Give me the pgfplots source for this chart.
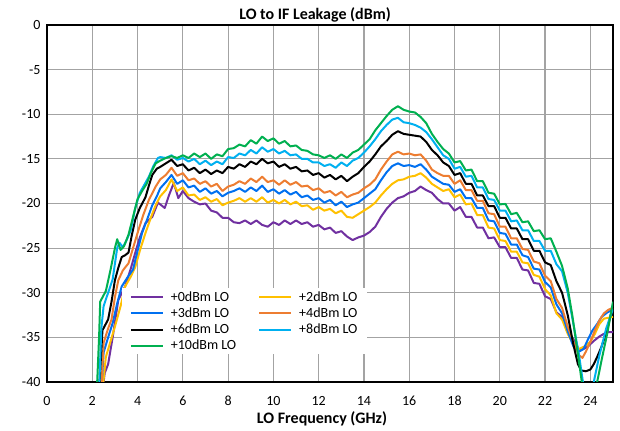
\documentclass[border=0pt]{standalone}
\usepackage{pgfplots}
\pgfplotsset{compat=1.18}
\usepackage{fontspec}
\setmainfont{Carlito}
\definecolor{cP}{HTML}{7030A0}
\definecolor{cY}{HTML}{FFC000}
\definecolor{cB}{HTML}{0070F0}
\definecolor{cO}{HTML}{ED7D31}
\definecolor{cC}{HTML}{00B0F0}
\definecolor{cG}{HTML}{00B050}
\begin{document}
\begin{tikzpicture}
\begin{axis}[name=ax,
  scale only axis, width=566pt, height=357pt,
  xmin=0, xmax=25, ymin=-40, ymax=0,
  xtick={0,2,...,24}, ytick={-40,-35,...,0},
  grid=major, major grid style={color=black!36, line width=1.2pt},
  axis line style={black, line width=1.8pt},
  major tick length=0pt,
  /pgf/number format/assume math mode=true,
  ticklabel style={font=\fontsize{14}{16}\selectfont},
  xticklabel style={anchor=base, yshift=-24pt},
  yticklabel style={xshift=-3pt},
  title={\textbf{LO to IF Leakage (dBm)}},
  title style={font=\fontsize{16}{18}\selectfont, at={(axis description cs:0.5,1)}, anchor=base, yshift=-1pt, xshift=-15pt},
  xlabel={\textbf{LO Frequency (GHz)}},
  xlabel style={font=\fontsize{16}{18}\selectfont, at={(axis description cs:0.5,0)}, anchor=base, yshift=-42pt, xshift=-8pt},
  every axis plot/.append style={line width=2pt, line join=round},
  legend columns=2,
  legend cell align=left,
  legend style={at={(axis cs:3.3,-29.5)}, anchor=north west, draw=none, fill=white,
    font=\fontsize{14}{15}\selectfont, inner xsep=8pt, inner ysep=1pt, row sep=1pt,
    /tikz/every odd column/.append style={column sep=5pt},
    /tikz/every even column/.append style={column sep=20pt}},
  legend image code/.code={\draw[#1] (0pt,0pt) -- (32pt,0pt);},
]
% +0 dBm
\addplot[cP] coordinates {
(2.45,-41)(2.55,-39)(2.7,-38)(2.9,-35)(3.15,-30.8)(3.45,-29.3)(3.7,-27.3)(3.9,-25.5)(4.1,-23.8)(4.35,-22.2)(4.65,-21.5)(4.9,-19.9)
(5.0,-20.1)(5.2,-20.5)(5.4,-19.0)(5.6,-17.7)(5.8,-19.4)(6.0,-18.6)(6.25,-19.4)(6.5,-19.8)(6.75,-20.1)(7.0,-20.0)(7.25,-20.8)(7.5,-21.0)(7.75,-21.6)(8.0,-21.6)(8.25,-22.1)(8.5,-22.2)(8.75,-21.9)(9.0,-22.3)(9.25,-21.9)(9.5,-22.4)(9.75,-22.6)(10.0,-22.1)(10.25,-22.4)(10.5,-21.9)(10.75,-22.3)(11.0,-21.9)(11.25,-22.3)(11.5,-22.1)(11.75,-22.6)(12.0,-22.4)(12.25,-22.9)(12.5,-22.7)(12.75,-23.3)(13.0,-23.1)(13.25,-23.7)(13.5,-24.1)(13.75,-23.8)(14.0,-23.6)(14.25,-23.2)(14.5,-22.6)(14.75,-21.5)(15.0,-20.6)(15.25,-19.9)(15.5,-19.4)(15.75,-19.2)(16.0,-18.8)(16.25,-18.6)(16.5,-18.1)(16.75,-18.5)(17.0,-18.8)(17.25,-19.5)(17.5,-20.0)
(17.75,-20.0)(18.0,-20.8)(18.25,-20.4)(18.5,-21.5)(18.75,-21.5)(19.0,-22.7)(19.25,-22.7)(19.5,-23.9)(19.75,-23.8)(20.0,-24.9)(20.25,-24.9)(20.5,-26.1)(20.75,-26.1)(21.0,-27.4)(21.25,-27.5)(21.5,-28.9)(21.75,-29.0)(22.0,-30.4)(22.25,-30.7)(22.5,-32.2)(22.75,-32.7)(23.0,-34.4)(23.25,-35.2)(23.5,-36.4)(23.7,-36.3)(23.9,-36.0)(24.15,-35.4)(24.4,-34.9)(24.6,-34.6)(24.8,-34.4)(25,-34.4)};
\addlegendentry{+0dBm LO}
% +2 dBm
\addplot[cY] coordinates {
(2.45,-41)(2.6,-37.2)(2.8,-35.5)(3.0,-33.8)(3.25,-31.5)(3.45,-29.3)(3.7,-28.2)(3.9,-27.1)(4.1,-25.3)(4.35,-23.3)(4.6,-21.5)(4.8,-20.2)
(5.0,-19.2)(5.25,-18.5)(5.5,-17.3)(5.75,-18.6)(6.0,-18.2)(6.25,-19.1)(6.5,-19.0)(6.75,-19.6)(7.0,-19.3)(7.25,-19.8)(7.5,-19.5)(7.75,-20.2)(8.0,-19.9)(8.25,-19.7)(8.5,-19.4)(8.75,-19.8)(9.0,-19.4)(9.25,-19.8)(9.5,-19.3)(9.75,-19.9)(10.0,-19.6)(10.25,-20.0)(10.5,-19.6)(10.75,-20.1)(11.0,-19.8)(11.25,-20.3)(11.5,-20.2)(11.75,-20.7)(12.0,-20.4)(12.25,-20.8)(12.5,-20.6)(12.75,-21.1)(13.0,-20.8)(13.25,-21.5)(13.5,-21.6)(13.75,-21.2)(14.0,-20.8)(14.25,-20.4)(14.5,-19.9)(14.75,-19.1)(15.0,-18.4)(15.25,-17.8)(15.5,-17.4)(15.75,-17.3)(16.0,-17.0)(16.25,-16.9)(16.5,-16.6)(16.75,-17.1)(17.0,-17.8)(17.25,-18.2)(17.5,-18.6)
(17.75,-18.4)(18.0,-19.3)(18.25,-19.0)(18.5,-20.1)(18.75,-20.0)(19.0,-21.3)(19.25,-21.3)(19.5,-22.7)(19.75,-22.8)(20.0,-24.1)(20.25,-24.2)(20.5,-25.4)(20.75,-25.4)(21.0,-26.6)(21.25,-26.7)(21.5,-28.0)(21.75,-28.2)(22.0,-29.6)(22.25,-30.3)(22.5,-32.3)(22.75,-33.0)(23.0,-34.6)(23.25,-35.8)(23.5,-36.3)(23.75,-36.0)(24.0,-35.5)(24.2,-34.6)(24.4,-33.5)(24.6,-32.9)(24.8,-32.8)(25,-32.7)};
\addlegendentry{+2dBm LO}
% +3 dBm
\addplot[cB] coordinates {
(2.4,-41)(2.5,-36.7)(2.7,-35)(2.9,-33.4)(3.1,-31.2)(3.3,-29.3)(3.55,-28.3)(3.8,-27.4)(4.0,-25.3)(4.2,-23.3)(4.45,-21.6)(4.65,-20.2)(4.85,-19.2)
(5.0,-18.3)(5.25,-17.6)(5.5,-16.8)(5.75,-17.8)(6.0,-17.4)(6.25,-18.2)(6.5,-18.0)(6.75,-18.7)(7.0,-18.3)(7.25,-18.9)(7.5,-18.6)(7.75,-19.2)(8.0,-18.8)(8.25,-18.6)(8.5,-18.3)(8.75,-18.7)(9.0,-18.2)(9.25,-18.6)(9.5,-18.0)(9.75,-18.7)(10.0,-18.4)(10.25,-18.9)(10.5,-18.5)(10.75,-19.0)(11.0,-18.7)(11.25,-19.3)(11.5,-19.1)(11.75,-19.6)(12.0,-19.4)(12.25,-19.9)(12.5,-19.6)(12.75,-20.2)(13.0,-19.8)(13.25,-20.4)(13.5,-20.1)(13.75,-19.9)(14.0,-19.4)(14.25,-18.9)(14.5,-18.4)(14.75,-17.4)(15.0,-16.5)(15.25,-15.8)(15.5,-15.5)(15.75,-15.8)(16.0,-15.7)(16.25,-15.9)(16.5,-15.6)(16.75,-16.2)(17.0,-17.0)(17.25,-17.4)(17.5,-17.8)
(17.75,-17.9)(18.0,-18.7)(18.25,-18.4)(18.5,-19.4)(18.75,-19.4)(19.0,-20.5)(19.25,-20.5)(19.5,-21.9)(19.75,-22.0)(20.0,-23.3)(20.25,-23.4)(20.5,-24.6)(20.75,-24.6)(21.0,-25.8)(21.25,-26.0)(21.5,-27.3)(21.75,-27.4)(22.0,-28.8)(22.25,-29.4)(22.5,-31.3)(22.75,-32.3)(23.0,-34.3)(23.25,-36.0)(23.5,-36.6)(23.7,-36.3)(23.9,-35.2)(24.1,-34.2)(24.3,-33.5)(24.5,-32.7)(24.75,-32.2)(25,-31.9)};
\addlegendentry{+3dBm LO}
% +4 dBm
\addplot[cO] coordinates {
(2.4,-41)(2.5,-35.6)(2.7,-34)(2.85,-33)(3.0,-30.5)(3.15,-28.6)(3.35,-27.5)(3.6,-26.7)(3.8,-25)(4.0,-23.3)(4.25,-21.3)(4.5,-19.6)(4.8,-18.1)
(5.0,-17.3)(5.25,-16.8)(5.5,-16.0)(5.75,-16.9)(6.0,-16.6)(6.25,-17.4)(6.5,-17.2)(6.75,-17.8)(7.0,-17.5)(7.25,-18.1)(7.5,-17.8)(7.75,-18.6)(8.0,-18.1)(8.25,-17.9)(8.5,-17.5)(8.75,-17.8)(9.0,-17.2)(9.25,-17.6)(9.5,-17.0)(9.75,-17.6)(10.0,-17.4)(10.25,-17.9)(10.5,-17.4)(10.75,-17.9)(11.0,-17.6)(11.25,-18.1)(11.5,-18.0)(11.75,-18.5)(12.0,-18.3)(12.25,-18.8)(12.5,-18.6)(12.75,-19.1)(13.0,-18.7)(13.25,-19.3)(13.5,-19.0)(13.75,-18.8)(14.0,-18.3)(14.25,-17.9)(14.5,-17.3)(14.75,-16.2)(15.0,-15.3)(15.25,-14.5)(15.5,-14.2)(15.75,-14.5)(16.0,-14.4)(16.25,-14.6)(16.5,-14.5)(16.75,-15.2)(17.0,-16.2)(17.25,-16.6)(17.5,-16.9)
(17.75,-16.9)(18.0,-17.8)(18.25,-17.4)(18.5,-18.5)(18.75,-18.5)(19.0,-19.7)(19.25,-19.7)(19.5,-21.1)(19.75,-21.2)(20.0,-22.6)(20.25,-22.6)(20.5,-23.9)(20.75,-23.9)(21.0,-25.1)(21.25,-25.2)(21.5,-26.5)(21.75,-26.7)(22.0,-28.1)(22.25,-28.7)(22.5,-30.7)(22.75,-31.7)(23.0,-33.8)(23.25,-35.5)(23.5,-37.0)(23.65,-37.3)(23.8,-36.6)(24.0,-35.5)(24.2,-34.2)(24.4,-33.1)(24.6,-32.3)(24.8,-31.9)(25,-31.7)};
\addlegendentry{+4dBm LO}
% +6 dBm
\addplot[black] coordinates {
(2.3,-41)(2.45,-34.2)(2.7,-33)(2.85,-31)(3.0,-28.6)(3.15,-27.2)(3.3,-26)(3.45,-25.8)(3.6,-25.5)(3.75,-23.5)(3.9,-21.8)(4.1,-20.5)(4.35,-19.3)(4.5,-18)(4.65,-16.8)(4.85,-16.1)
(5.0,-15.9)(5.25,-15.5)(5.5,-15.1)(5.75,-15.8)(6.0,-15.6)(6.25,-16.3)(6.5,-16.0)(6.75,-16.6)(7.0,-16.2)(7.25,-16.7)(7.5,-16.3)(7.75,-16.6)(8.0,-15.9)(8.25,-16.1)(8.5,-15.6)(8.75,-15.9)(9.0,-15.3)(9.25,-15.6)(9.5,-15.0)(9.75,-15.5)(10.0,-15.3)(10.25,-15.9)(10.5,-15.6)(10.75,-16.1)(11.0,-15.9)(11.25,-16.4)(11.5,-16.3)(11.75,-16.8)(12.0,-16.6)(12.25,-17.1)(12.5,-16.8)(12.75,-17.3)(13.0,-16.9)(13.25,-17.5)(13.5,-17.0)(13.75,-16.6)(14.0,-15.9)(14.25,-15.3)(14.5,-14.5)(14.75,-13.6)(15.0,-13.0)(15.25,-12.3)(15.5,-11.9)(15.75,-12.2)(16.0,-12.3)(16.25,-12.4)(16.5,-12.5)(16.75,-13.1)(17.0,-14.0)(17.25,-14.6)(17.5,-15.4)
(17.75,-15.8)(18.0,-16.8)(18.25,-16.6)(18.5,-17.8)(18.75,-17.8)(19.0,-19.1)(19.25,-19.1)(19.5,-20.3)(19.75,-20.3)(20.0,-21.6)(20.25,-21.6)(20.5,-22.8)(20.75,-22.8)(21.0,-24.0)(21.25,-24.0)(21.5,-25.3)(21.75,-25.3)(22.0,-26.6)(22.25,-26.9)(22.5,-28.7)(22.75,-30.0)(23.0,-32.5)(23.25,-35.8)(23.45,-38.0)(23.6,-38.7)(23.8,-38.8)(24.0,-38.6)(24.15,-38.0)(24.3,-37.2)(24.5,-36.0)(24.7,-34.5)(24.85,-33)(25,-31.4)};
\addlegendentry{+6dBm LO}
% +8 dBm
\addplot[cC] coordinates {
(2.3,-41)(2.4,-34)(2.5,-31.5)(2.7,-30)(2.9,-28.5)(3.1,-25)(3.2,-24.4)(3.35,-24.9)(3.5,-24.2)(3.7,-23)(3.9,-20.5)(4.1,-18.8)(4.3,-17.9)(4.5,-17)(4.7,-15.8)(4.9,-14.9)
(5.0,-14.8)(5.25,-14.9)(5.5,-14.6)(5.75,-15.1)(6.0,-14.9)(6.25,-15.3)(6.5,-15.0)(6.75,-15.6)(7.0,-15.2)(7.25,-15.7)(7.5,-15.3)(7.75,-15.6)(8.0,-14.8)(8.25,-14.9)(8.5,-14.4)(8.75,-14.6)(9.0,-14.0)(9.25,-14.4)(9.5,-13.7)(9.75,-14.2)(10.0,-13.9)(10.25,-14.4)(10.5,-14.1)(10.75,-14.6)(11.0,-14.5)(11.25,-15.0)(11.5,-15.0)(11.75,-15.4)(12.0,-15.4)(12.25,-15.8)(12.5,-15.6)(12.75,-16.0)(13.0,-15.4)(13.25,-15.8)(13.5,-15.2)(13.75,-14.9)(14.0,-14.3)(14.25,-13.6)(14.5,-12.8)(14.75,-11.9)(15.0,-11.2)(15.25,-10.6)(15.5,-10.4)(15.75,-10.9)(16.0,-11.0)(16.25,-11.2)(16.5,-11.5)(16.75,-12.0)(17.0,-12.8)(17.25,-13.7)(17.5,-14.6)
(17.75,-15.0)(18.0,-16.1)(18.25,-15.9)(18.5,-17.0)(18.75,-16.9)(19.0,-18.2)(19.25,-18.2)(19.5,-19.5)(19.75,-19.6)(20.0,-20.8)(20.25,-20.8)(20.5,-22.0)(20.75,-21.9)(21.0,-23.0)(21.25,-23.0)(21.5,-24.2)(21.75,-24.2)(22.0,-25.3)(22.25,-25.3)(22.5,-26.8)(22.75,-27.6)(23.0,-30)(23.25,-33.5)(23.5,-37)(23.7,-40.5)(23.85,-44)(24.0,-44)(24.15,-40)(24.4,-37)(24.7,-34)(25,-31.8)};
\addlegendentry{+8dBm LO}
% +10 dBm
\addplot[cG] coordinates {
(2.2,-41)(2.3,-35)(2.35,-31)(2.6,-29.8)(2.8,-27.5)(3.0,-25)(3.1,-24)(3.25,-25.2)(3.4,-24.8)(3.6,-23.5)(3.8,-21.5)(4.0,-19.5)(4.2,-18.6)(4.4,-17.8)(4.6,-16.5)(4.8,-15.5)
(5.0,-15.2)(5.25,-14.9)(5.5,-14.7)(5.75,-14.9)(6.0,-14.6)(6.25,-14.9)(6.5,-14.4)(6.75,-14.8)(7.0,-14.4)(7.25,-15.0)(7.5,-14.5)(7.75,-14.7)(8.0,-13.9)(8.25,-13.8)(8.5,-13.4)(8.75,-13.6)(9.0,-12.9)(9.25,-13.3)(9.5,-12.5)(9.75,-13.0)(10.0,-12.7)(10.25,-13.3)(10.5,-13.0)(10.75,-13.6)(11.0,-13.5)(11.25,-14.0)(11.5,-14.1)(11.75,-14.5)(12.0,-14.6)(12.25,-14.9)(12.5,-14.6)(12.75,-15.0)(13.0,-14.5)(13.25,-14.9)(13.5,-14.3)(13.75,-14.0)(14.0,-13.4)(14.25,-12.8)(14.5,-11.8)(14.75,-11.0)(15.0,-10.2)(15.25,-9.5)(15.5,-9.1)(15.75,-9.5)(16.0,-9.7)(16.25,-9.8)(16.5,-10.3)(16.75,-11.0)(17.0,-12.2)(17.25,-13.1)(17.5,-13.9)
(17.75,-14.4)(18.0,-15.4)(18.25,-15.25)(18.5,-16.3)(18.75,-16.2)(19.0,-17.5)(19.25,-17.5)(19.5,-18.8)(19.75,-18.9)(20.0,-20.1)(20.25,-20.05)(20.5,-21.2)(20.75,-21.05)(21.0,-22.1)(21.25,-22.0)(21.5,-23.1)(21.75,-23.0)(22.0,-24.0)(22.25,-23.9)(22.5,-25.4)(22.75,-27)(23.0,-29.5)(23.2,-32.5)(23.4,-36)(23.65,-40.5)(23.8,-44)(24.15,-44)(24.3,-40)(24.5,-37.5)(24.75,-34.5)(25,-31)};
\addlegendentry{+10dBm LO}
\end{axis}
\pgfresetboundingbox
\path ([shift={(-47pt,-49pt)}]ax.south west) rectangle ([shift={(7pt,25pt)}]ax.north east);
\end{tikzpicture}
\end{document}
